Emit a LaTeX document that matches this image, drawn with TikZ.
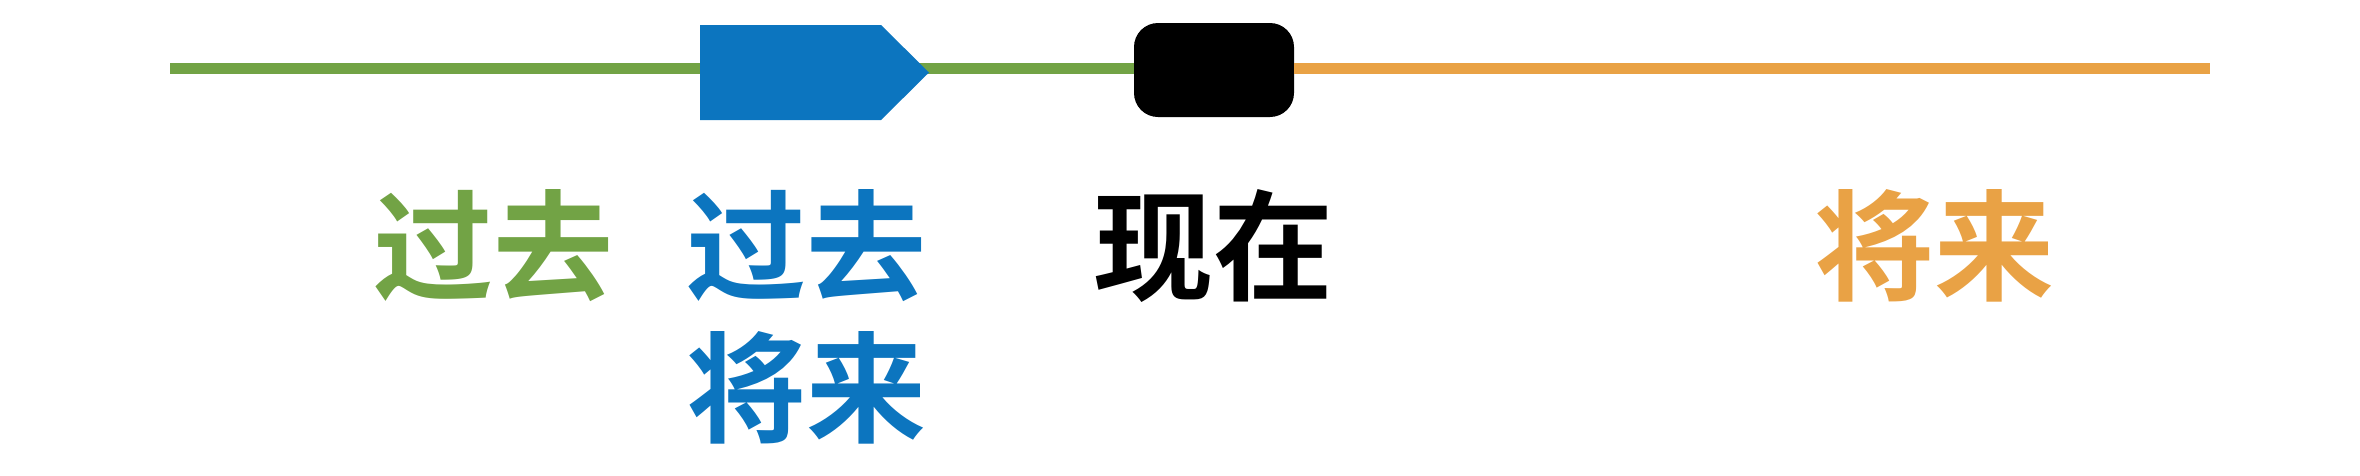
\documentclass[tikz,border=0pt]{standalone}
\usepackage{fontspec}
\newfontfamily\cjk{Noto Sans CJK SC}[BoldFont={Noto Sans CJK SC Bold}]
\definecolor{pastgreen}{HTML}{72A345}
\definecolor{bothblue}{HTML}{0C75BF}
\definecolor{futorange}{HTML}{E9A245}
\tikzset{
  lbl/.style={inner sep=0pt, outer sep=0pt, font=\cjk\bfseries\fontsize{120}{142}\selectfont, align=center},
  tline/.style={line width=11pt},
}
\begin{document}
\begin{tikzpicture}[x=1pt,y=-1pt]
\useasboundingbox (0,0) rectangle (2360,475);
% anchor points
\coordinate (start) at (170,68.5);
\coordinate (finish) at (2210,68.5);
\node[fill=black, rounded corners=24pt, minimum width=160pt, minimum height=94pt, inner sep=0pt, outer sep=0pt] (now) at (1214,70) {};
% lines (behind the pentagon)
\draw[tline, pastgreen] (start) -- (now.west |- start);
\draw[tline, futorange] (now.east |- finish) -- (finish);
% blue pentagon
\fill[bothblue] (700,25) coordinate (pnw) -- (881,25) -- (929,72.5) coordinate (tip) -- (881,120) -- (700,120) -- cycle;
% labels
\node[lbl, text=pastgreen] (lpast) at (493,246) {过去};
\node[lbl, text=bothblue, anchor=north] (lboth) at (806,189) {过去\\将来};
\node[lbl, text=black] (lnow) at (1213,246) {现在};
\node[lbl, text=futorange] (lfut) at (1934,246) {将来};
\end{tikzpicture}
\end{document}
